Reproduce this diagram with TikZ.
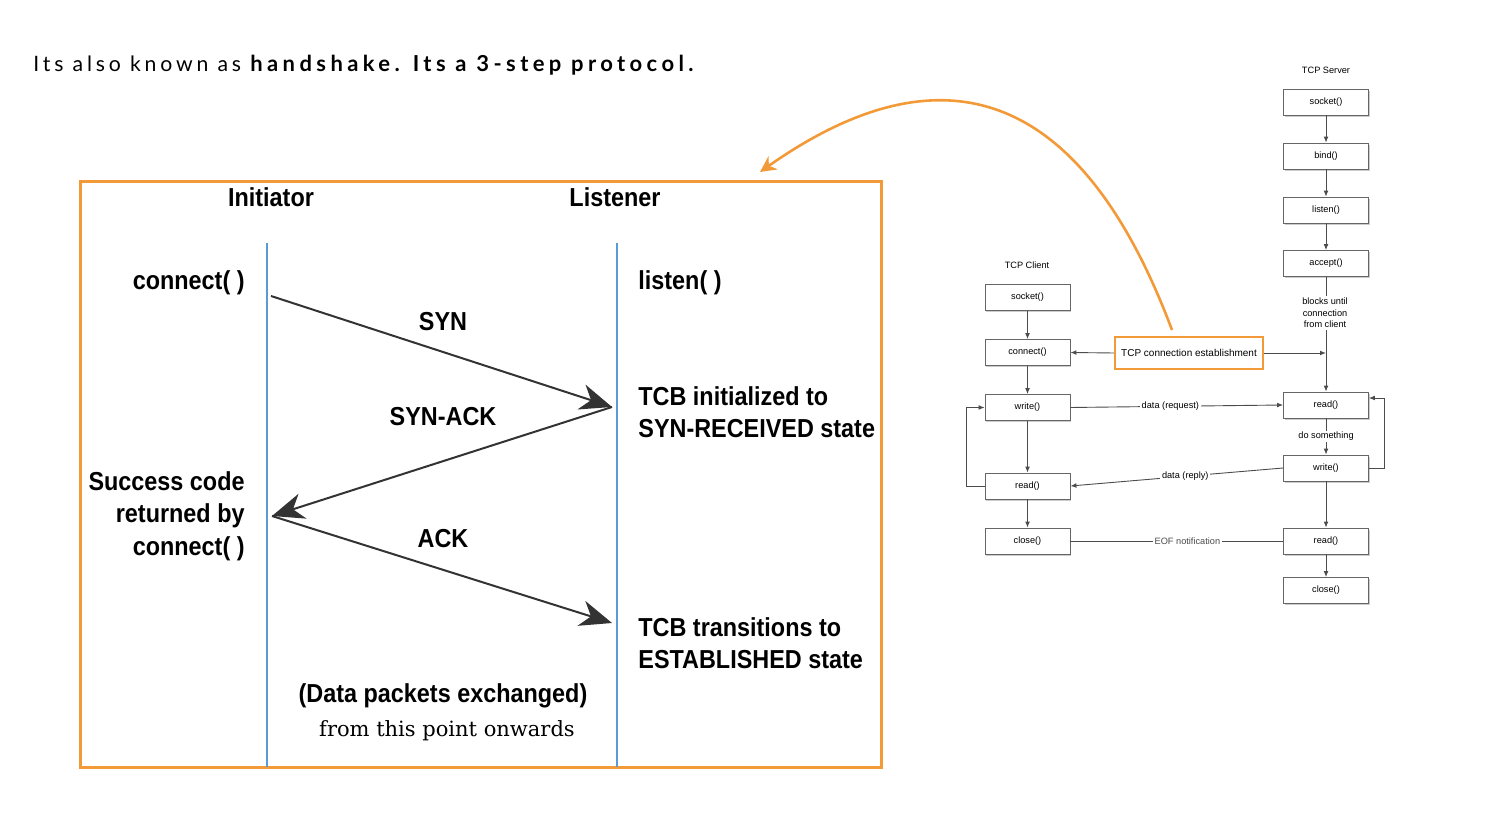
\documentclass[tikz,border=0pt]{standalone}
\usepackage{fontspec}
\setmainfont{Liberation Sans}
\newfontfamily\headfont[LetterSpace=18]{Lato}
\newfontfamily\headbold[LetterSpace=20]{Lato}
\newfontfamily\cndfont[FakeStretch=0.9]{Liberation Sans}
\newfontfamily\serfont{DejaVu Serif}
\usetikzlibrary{arrows.meta,shadows}

\definecolor{boxorange}{HTML}{F39A38}
\definecolor{lifeblue}{HTML}{5B9BD5}
\definecolor{msggray}{HTML}{333333}

\begin{document}
\begin{tikzpicture}[x=0.5pt,y=-0.5pt,
    big/.style={font=\cndfont\bfseries\fontsize{13}{16.25}\selectfont, inner sep=0pt},
    msg/.style={draw=msggray, line width=1pt, -{Stealth[length=16pt,width=13pt,inset=5pt]}},
    life/.style={draw=lifeblue, line width=1.2pt},
    fbox/.style={draw=black!60, fill=white, minimum width=42.5pt, minimum height=13pt, inner sep=0pt,
        font=\fontsize{4.6}{5}\selectfont, drop shadow={shadow xshift=0.6pt, shadow yshift=-0.8pt, opacity=0.4}},
    flow/.style={draw=black!70, line width=0.45pt, -{Latex[length=3pt,width=2.4pt]}},
    small/.style={font=\fontsize{4.6}{5.8}\selectfont, inner sep=0.8pt, fill=white, align=center}]
    \useasboundingbox (0,0) rectangle (1504,838);

    % heading
    \node[anchor=base west, inner sep=0pt, font=\headfont\fontsize{10.6}{12}\selectfont] (title) at (33,72)
        {Its also known as {\headbold\bfseries\fontsize{11}{12}\selectfont handshake. Its a 3-step protocol.}};

    % three-way handshake
    \draw[boxorange, line width=1.5pt] (80,182) rectangle (881,767);
    \draw[life] (267,243) coordinate (initop) -- (267,767) coordinate (inibot);
    \draw[life] (617,243) coordinate (listop) -- (617,767) coordinate (lisbot);
    \node[big] (initiator) at (271,197) {Initiator};
    \node[big] (listener) at (615,197) {Listener};
    \node[big, anchor=base east] (connect) at (245,290) {connect( )};
    \node[big, anchor=base west] (listen) at (638,290) {listen( )};

    \coordinate (synA) at (271,296);
    \coordinate (synB) at (612,407);
    \coordinate (ackA) at (272,516);
    \coordinate (ackB) at (612,623);
    \draw[msg] (synA) -- (synB);
    \draw[msg] (synB) -- (ackA);
    \draw[msg] (ackA) -- (ackB);
    \node[big] (syn) at (443,322) {SYN};
    \node[big] (synack) at (443,417) {SYN-ACK};
    \node[big] (ack) at (443,539) {ACK};

    \node[big, anchor=west, align=left] (tcbinit) at (638,412) {TCB initialized to\\SYN-RECEIVED state};
    \node[big, anchor=east, align=right] (success) at (245,516) {Success code\\returned by\\connect( )};
    \node[big, anchor=west, align=left] (tcbtrans) at (638,643) {TCB transitions to\\ESTABLISHED state};
    \node[big] (datapk) at (443,696) {(Data packets exchanged)};
    \node[font=\serfont\fontsize{10.5}{12}\selectfont, inner sep=0pt] (onwards) at (447,731) {from this point onwards};

    % socket calls
    \node[font=\fontsize{4.6}{5}\selectfont] (srvtitle) at (1326,70) {TCP Server};
    \node[fbox] (ssocket) at (1326,102) {socket()};
    \node[fbox] (sbind) at (1326,156) {bind()};
    \node[fbox] (slisten) at (1326,210) {listen()};
    \node[fbox] (saccept) at (1326,263.5) {accept()};
    \node[fbox] (sread) at (1326,405) {read()};
    \node[fbox] (swrite) at (1326,468) {write()};
    \node[fbox] (sread2) at (1326,541) {read()};
    \node[fbox] (sclose) at (1326,590.5) {close()};

    \node[font=\fontsize{4.6}{5}\selectfont] (clititle) at (1027,265) {TCP Client};
    \node[fbox] (csocket) at (1027.5,297.5) {socket()};
    \node[fbox] (cconnect) at (1027.5,352.5) {connect()};
    \node[fbox] (cwrite) at (1027.5,407.5) {write()};
    \node[fbox] (cread) at (1027.5,486) {read()};
    \node[fbox] (cclose) at (1027.5,541) {close()};

    \node[draw=boxorange, line width=1.2pt, minimum width=74pt, minimum height=16pt, inner sep=0pt,
        font=\fontsize{5}{6}\selectfont] (tcpbox) at (1189,353) {TCP connection establishment};

    \draw[flow] (ssocket) -- (sbind);
    \draw[flow] (sbind) -- (slisten);
    \draw[flow] (slisten) -- (saccept);
    \draw[flow] (saccept) -- (sread);
    \node[small] (blocks) at (1325,313) {blocks until\\connection\\from client};
    \draw[flow] (sread) -- node[small] (dosth) {do something} (swrite);
    \draw[flow] (swrite) -- (sread2);
    \draw[flow] (sread2) -- (sclose);

    \draw[flow] (csocket) -- (cconnect);
    \draw[flow] (cconnect) -- (cwrite);
    \draw[flow] (cwrite) -- (cread);
    \draw[flow] (cread) -- (cclose);

    \coordinate (srvjoin) at (1326,353);
    \draw[flow] (tcpbox.west) -- (cconnect.east);
    \draw[flow] (tcpbox.east) -- (srvjoin);
    \draw[flow] (cwrite.east) -- node[small, pos=0.47] (req) {data (request)} (sread.west);
    \draw[flow] (swrite.west) -- node[small, pos=0.46] (rep) {data (reply)} (cread.east);
    \draw[black!70, line width=0.45pt] (cclose) -- node[small, pos=0.55] (eof) {EOF notification} (sread2);
    \draw[flow] (cread.west) -- ++(-18,0) |- (cwrite.west);
    \draw[flow] (swrite.east) -- ++(16,0) |- ([yshift=3.5pt]sread.east);

    % pointer to the handshake
    \coordinate (curvestart) at (1172,330);
    \coordinate (framearrow) at (760,172);
    \draw[boxorange, line width=1.3pt, -{Stealth[length=8pt,width=8pt]}]
        (curvestart) .. controls (1065,45) and (905,70) .. (framearrow);
\end{tikzpicture}
\end{document}
